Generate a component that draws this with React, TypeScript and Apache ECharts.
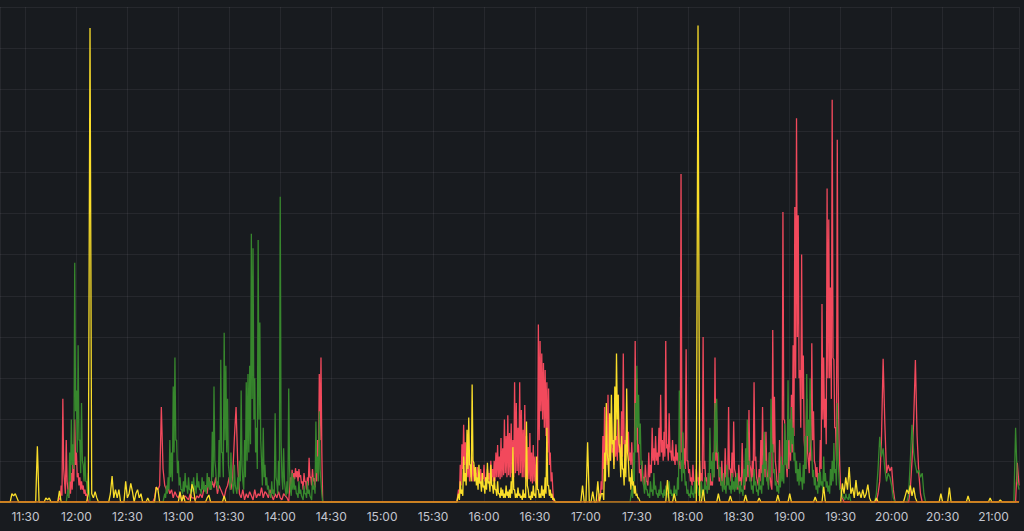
import React, { useEffect, useRef } from "react";
import * as echarts from "echarts";

// Time range of the panel (local clock)
const startClock = "11:15";
const endClock = "21:15";
const tickStepMinutes = 30;

// Each segment: [start clock, per-minute peak values, optional per-minute trough values (read half a minute later)]
type Segment = [string, number[], number[]?];

const redSegments: Segment[] = [
  ["11:50",
    [0.1, 0.4, 2.5, 0.5, 1.5, 0.3, 0.5, 0.7, 1.0, 2.0, 1.2, 0.7, 0.6, 0.5, 0.4, 0.3, 0.2],
    [0.05, 0.15, 0.8, 0.2, 0.5, 0.1, 0.2, 0.3, 0.5, 0.9, 0.6, 0.4, 0.3, 0.3, 0.2, 0.15, 0.1]],
  ["12:46", [
    0.1, 0.36, 0.3, 0.4, 2.3, 0.8, 0.4, 0.3,
    0.35, 0.2, 0.3, 0.1, 0.25, 0.15,
    0.1, 0.2, 0.05, 0.1, 0.15, 0.1, 0.05, 0.2, 0.1, 0.1, 0.05, 0.15, 0.1, 0.2, 0.1, 0.3,
    0.4, 0.2, 0.6, 0.3, 0.5, 0.35, 0.6, 0.2, 0.4, 0.3, 0.2, 0.1, 0.3, 0.4, 0.6, 0.3, 0.6, 1.55, 2.3, 0.9, 0.2,
    0.1, 0.3, 0.05, 0.2, 0.1, 0.25, 0.15, 0.05, 0.3, 0.1, 0.2, 0.15, 0.35, 0.1, 0.25, 0.2, 0.1, 0.3, 0.15, 0.05, 0.2, 0.1, 0.25, 0.1, 0.05, 0.2, 0.15, 0.1,
  ]],
  ["14:06",
    [0.6, 0.78, 0.7, 0.82, 0.75, 0.8, 0.65, 0.5, 0.7, 0.5, 0.6, 1.07, 0.6, 0.8, 0.58, 0.7, 1.5, 3.1, 3.5],
    [0.3, 0.5, 0.55, 0.6, 0.5, 0.6, 0.45, 0.3, 0.5, 0.3, 0.4, 0.6, 0.4, 0.5, 0.35, 0.5, 0.8, 1.5, 1.2]],
  ["15:45", [
    0.3, 0.9, 1.4, 1.87, 1.45, 0.9, 1.2, 0.8, 1.1, 0.9,
    0.7, 0.85, 0.6, 0.8, 0.7, 0.9, 0.6, 0.8, 0.7, 1.0,
    0.8, 1.0, 1.2, 1.38, 1.1, 1.55, 1.3, 2.0, 1.6, 2.1,
    1.67, 1.9, 1.5, 2.9, 2.4, 1.8, 2.9, 2.23, 1.75, 2.35,
    1.6, 1.33, 1.67, 1.2, 1.38, 1.1, 0.95, 4.3, 3.9, 3.6,
    3.37, 3.2, 2.9, 2.75, 1.2, 0.72,
  ], [
    0.1, 0.4, 0.8, 0.9, 0.7, 0.6, 0.5, 0.6, 0.5, 0.6,
    0.5, 0.6, 0.45, 0.5, 0.55, 0.5, 0.45, 0.55, 0.5, 0.6,
    0.5, 0.5, 0.6, 0.6, 0.55, 0.6, 0.65, 0.7, 0.6, 0.65,
    0.6, 0.7, 0.6, 0.7, 0.75, 0.65, 0.7, 0.6, 0.6, 0.55,
    0.5, 0.55, 0.5, 0.45, 0.5, 0.45, 0.4, 1.5, 2.2, 2.0,
    1.8, 1.6, 1.2, 0.9, 0.5, 0.3,
  ]],
  ["17:08", [
    0.2, 0.5, 1.6, 2.3, 1.2, 2.6, 1.5, 2.0, 1.3, 2.2,
    1.6, 2.6, 1.4, 2.2, 3.6, 1.5, 2.0, 1.7, 1.2, 1.45,
    1.0, 3.9, 3.0, 1.4, 0.8, 1.0, 0.6, 0.9, 0.5, 1.2,
    0.9, 1.8, 1.3, 1.6, 1.2, 1.8, 2.6, 1.5, 1.7, 3.9,
    1.4, 2.15, 1.25, 1.5, 1.1, 1.4, 1.2, 1.0, 7.95, 1.67,
    1.3, 3.7, 1.0, 0.8, 0.6, 0.9, 0.5, 0.8, 0.6, 1.0,
    0.7, 4.0, 1.0, 0.6, 0.4, 0.7, 0.5, 1.2, 3.5, 2.0,
    0.9, 0.6, 1.0, 0.5, 1.3, 0.7, 2.3, 0.8, 1.2, 1.95,
    0.7, 0.5, 0.9, 0.6, 1.43, 0.4, 0.8, 1.2, 2.23, 0.8,
    1.0, 2.9, 1.1, 0.5, 0.8, 1.5, 2.3, 1.0, 1.7, 0.6,
    1.2, 0.4, 4.17, 2.55, 0.8, 0.5, 1.5, 1.0, 7.03, 1.98,
    0.9, 1.5, 2.0, 2.6, 3.8, 7.15, 9.3, 6.95, 3.2, 6.0,
    3.55, 1.2, 2.5, 1.0, 2.0, 3.85, 2.2, 0.9, 0.85, 0.7,
    1.5, 4.8, 3.5, 2.5, 7.6, 6.85, 5.2, 9.75, 3.45, 1.8,
    8.78, 1.5, 0.3, 0.1, 0,
  ], [
    0.1, 0.3, 0.8, 1.0, 0.9, 1.1, 1.0, 1.2, 0.9, 1.1,
    1.0, 1.2, 1.0, 1.1, 1.4, 1.0, 1.2, 1.0, 0.9, 0.8,
    0.7, 1.5, 1.2, 0.7, 0.5, 0.6, 0.4, 0.5, 0.4, 0.6,
    0.7, 1.0, 0.9, 1.0, 0.9, 1.1, 1.2, 1.0, 1.1, 1.3,
    1.0, 1.2, 1.0, 1.0, 0.9, 1.0, 0.9, 0.8, 1.2, 0.9,
    0.8, 1.0, 0.7, 0.5, 0.4, 0.5, 0.4, 0.5, 0.4, 0.5,
    0.5, 0.8, 0.5, 0.4, 0.3, 0.4, 0.4, 0.6, 1.0, 0.8,
    0.5, 0.4, 0.5, 0.4, 0.6, 0.5, 0.8, 0.5, 0.6, 0.8,
    0.4, 0.3, 0.5, 0.4, 0.6, 0.3, 0.5, 0.6, 0.9, 0.5,
    0.6, 1.0, 0.6, 0.4, 0.5, 0.7, 0.9, 0.6, 0.8, 0.4,
    0.6, 0.3, 1.2, 1.0, 0.5, 0.4, 0.7, 0.6, 2.0, 1.0,
    0.6, 0.8, 1.0, 1.2, 1.6, 3.0, 4.0, 3.0, 1.8, 2.5,
    1.5, 0.8, 1.2, 0.7, 1.0, 1.5, 1.0, 0.6, 0.5, 0.5,
    0.8, 2.0, 1.8, 1.4, 3.0, 3.0, 2.5, 3.5, 1.8, 1.0,
    3.0, 0.8, 0.2, 0.05, 0,
  ]],
  ["19:52", [0.2, 0.5, 1.5, 3.47, 1.9, 0.7, 0.9, 0.75, 0.85, 0.3]],
  ["20:11", [0.3, 1.0, 2.0, 3.44, 1.6, 0.7, 0.2]],
  ["21:14", [0.95, 0.4]],
];

const greenSegments: Segment[] = [
  ["11:55",
    [0.3, 1.2, 2.0, 1.4, 5.8, 2.7, 3.8, 1.5, 2.4, 0.9, 1.1, 0.5, 0.7],
    [0.1, 0.5, 0.9, 0.8, 2.2, 1.2, 1.5, 0.7, 1.0, 0.5, 0.5, 0.2, 0.3]],
  ["12:52", [
    0.2, 0.4, 0.6, 1.5, 1.2, 2.8, 3.5, 1.5, 1.0,
    0.6, 0.3, 0.5, 0.7, 0.4, 0.6, 0.3, 0.5, 0.6, 0.4, 0.7, 0.5, 0.3, 0.6, 0.5, 0.4, 0.7, 0.6,
    0.5, 1.7, 2.8, 0.8, 0.5, 1.5, 3.45, 1.2, 4.1, 3.3, 2.5, 0.7, 1.2, 0.4, 0.9, 0.3, 0.6, 1.0, 2.7,
    0.5, 1.5, 2.9, 3.1, 3.3, 6.5, 6.15, 3.0, 1.8, 6.35, 4.35, 1.0, 1.8, 0.9, 0.6, 0.4, 0.2, 0.5, 0.3,
    2.15, 0.5, 1.0, 7.4, 0.6, 1.3, 0.3, 0.5, 2.75, 0.3, 0.7, 0.6, 0.4, 0.2, 0.5, 0.3, 0.1, 0.4, 0.2,
    0.5, 0.3, 0.1, 0.6, 0.4, 1.95, 1.1, 2.2, 0.5,
  ], [
    0.1, 0.2, 0.3, 0.6, 0.5, 1.2, 1.5, 0.7, 0.4,
    0.3, 0.2, 0.25, 0.35, 0.2, 0.3, 0.2, 0.25, 0.3, 0.2, 0.35, 0.3, 0.2, 0.3, 0.25, 0.2, 0.35, 0.3,
    0.3, 0.6, 1.0, 0.4, 0.3, 0.6, 1.2, 0.6, 1.5, 1.2, 0.9, 0.3, 0.5, 0.2, 0.4, 0.2, 0.3, 0.5, 0.9,
    0.3, 0.6, 1.0, 1.2, 1.4, 2.5, 2.0, 1.2, 0.8, 2.0, 1.5, 0.4, 0.6, 0.4, 0.3, 0.2, 0.1, 0.2, 0.15,
    0.6, 0.2, 0.4, 1.5, 0.3, 0.5, 0.15, 0.2, 0.8, 0.15, 0.3, 0.3, 0.2, 0.1, 0.2, 0.15, 0.05, 0.2, 0.1,
    0.2, 0.15, 0.05, 0.3, 0.2, 0.7, 0.5, 0.8, 0.2,
  ]],
  ["17:27", [
    0.3, 1.2, 2.4, 3.3, 2.6, 1.9, 1.0, 0.4, 0.6, 0.3,
    0.2, 0.5, 0.3, 0.7, 0.4, 0.2, 0.3, 0.5, 0.2, 0.3,
    0.4, 0.2, 0.5, 0.3, 0.2, 0.4, 0.3, 0.6, 2.7, 1.0,
    1.7, 0.8, 0.5, 0.3, 0.2, 0.4, 0.2, 0.5, 0.8, 0.3,
    0.2, 0.5, 0.3, 0.6, 0.4, 0.7, 1.8, 1.0, 1.2, 2.4,
    2.5, 1.2, 0.85, 0.5, 0.7, 0.4, 0.9, 0.6, 0.4, 0.7,
    0.5, 0.6, 0.7, 0.4, 0.5, 0.3, 0.8, 1.3, 2.0, 1.0,
    0.6, 0.4, 0.8, 0.5, 0.3, 0.6, 0.4, 0.9, 1.7, 1.0,
    0.6, 1.2, 2.5, 1.4, 0.8, 0.5, 0.4, 0.7, 1.1, 0.9,
    1.9, 1.5, 2.95, 2.0, 2.3, 1.8, 1.2, 1.0, 0.8, 0.95,
    0.6, 0.9, 1.6, 3.1, 2.0, 3.0, 1.2, 0.78, 0.6, 0.4,
    0.7, 0.73, 0.5, 1.1, 0.7, 0.5, 0.4, 0.8, 1.0, 1.43,
    0.8, 2.4, 0.6, 0.3, 0.2, 0.1, 0.2, 0.1, 0.2,
  ], [
    0.1, 0.5, 1.2, 1.8, 1.4, 0.9, 0.5, 0.2, 0.3, 0.15,
    0.1, 0.25, 0.15, 0.3, 0.2, 0.1, 0.15, 0.2, 0.1, 0.15,
    0.2, 0.1, 0.2, 0.15, 0.1, 0.2, 0.15, 0.3, 1.0, 0.5,
    0.7, 0.4, 0.2, 0.15, 0.1, 0.2, 0.1, 0.2, 0.4, 0.15,
    0.1, 0.2, 0.15, 0.3, 0.2, 0.3, 0.8, 0.5, 0.6, 1.2,
    1.2, 0.6, 0.4, 0.25, 0.3, 0.2, 0.4, 0.3, 0.2, 0.3,
    0.25, 0.3, 0.35, 0.2, 0.25, 0.15, 0.4, 0.6, 0.9, 0.5,
    0.3, 0.2, 0.4, 0.25, 0.15, 0.3, 0.2, 0.4, 0.8, 0.5,
    0.3, 0.6, 1.2, 0.7, 0.4, 0.25, 0.2, 0.35, 0.5, 0.45,
    0.9, 0.8, 1.5, 1.2, 1.4, 1.0, 0.7, 0.5, 0.4, 0.5,
    0.3, 0.45, 0.8, 1.6, 1.2, 1.5, 0.6, 0.4, 0.3, 0.2,
    0.35, 0.4, 0.25, 0.5, 0.35, 0.25, 0.2, 0.4, 0.5, 0.7,
    0.4, 1.0, 0.3, 0.15, 0.1, 0.05, 0.1, 0.05, 0.1,
  ]],
  ["19:51", [0.2, 0.8, 1.58, 1.1, 1.3, 0.8, 0.5, 0.7, 0.6, 0.4, 0.1]],
  ["20:10", [0.2, 1.0, 1.87, 1.2, 0.9, 0.7, 0.78, 0.6, 0.7, 0.2]],
  ["21:13", [1.8, 0.5, 0.3]],
];

const yellowSegments: Segment[] = [
  ["11:22", [0.2, 0.15, 0.2, 0.1]],
  ["11:37", [1.35]],
  ["11:42", [0.1, 0.05, 0.1]],
  ["11:50", [0.27]],
  ["12:07", [0.2, 11.49, 0.2, 0.1, 0.25, 0.1]],
  ["12:20", [0.2, 0.63, 0.1, 0.3, 0.1, 0.3]],
  ["12:29", [0.5, 0.1, 0.2, 0.45, 0.25]],
  ["12:35", [0.2, 0.3, 0.1, 0.2]],
  ["12:42", [0.1]],
  ["12:47", [0.36, 0.3]],
  ["13:01", [0.25, 0, 0.17]],
  ["13:08", [0.43, 0.3]],
  ["13:17", [0.1, 0.17]],
  ["13:27", [0.15]],
  ["15:45", [
    0.2, 0.5, 0.3, 1.1, 0.7, 1.75, 2.05, 0.9, 2.85, 0.95,
    0.85, 0.6, 0.9, 0.5, 0.7, 0.4, 0.6, 0.95, 0.5, 0.9,
    0.4, 0.6, 0.3, 0.5, 0.2, 0.35, 0.3, 0.2, 0.4, 0.25,
    0.3, 0.5, 1.33, 0.3, 0.2, 0.35, 0.2, 0.15, 0.3, 0.2,
    1.95, 0.3, 0.15, 0.25, 0.4, 0.2, 1.1, 0.3, 0.2, 0.4,
    0.3, 0.6, 1.8, 0.4, 0.3, 0.2, 0.1,
  ], [
    0.05, 0.2, 0.15, 0.5, 0.4, 0.8, 0.9, 0.5, 1.0, 0.5,
    0.4, 0.3, 0.45, 0.25, 0.35, 0.2, 0.3, 0.45, 0.25, 0.4,
    0.2, 0.3, 0.15, 0.2, 0.1, 0.15, 0.1, 0.1, 0.15, 0.1,
    0.1, 0.2, 0.3, 0.1, 0.1, 0.15, 0.1, 0.05, 0.1, 0.1,
    0.4, 0.1, 0.05, 0.1, 0.15, 0.1, 0.3, 0.1, 0.1, 0.15,
    0.1, 0.2, 0.4, 0.15, 0.1, 0.05, 0.05,
  ]],
  ["16:58", [0.4, 0, 0, 1.45, 0, 0, 0.25, 0, 0, 0.5, 0, 0.2]],
  ["17:10",
    [0.2, 1.2, 2.4, 1.0, 2.15, 2.6, 1.5, 2.8, 3.6, 2.6, 1.3, 1.6, 0.8, 1.4, 2.75, 1.0, 0.6, 0.8, 0.5, 0.4, 0.2, 0.1],
    [0.05, 0.5, 1.2, 0.6, 1.0, 1.4, 0.8, 1.5, 2.0, 1.4, 0.6, 0.8, 0.4, 0.6, 1.2, 0.5, 0.3, 0.4, 0.2, 0.15, 0.1, 0.05]],
  ["17:48", [0.53]],
  ["17:52", [0.2]],
  ["18:06", [11.55]],
  ["18:09", [0.3]],
  ["18:18", [0.2]],
  ["18:25", [0.15]],
  ["18:34", [0.17]],
  ["18:42", [0.1]],
  ["18:53", [0.17]],
  ["19:00", [0.2]],
  ["19:15", [0.12]],
  ["19:20", [0.37]],
  ["19:31", [0.45, 0.2, 0.6, 0.3, 0.85, 0.2, 0.35, 0.1, 0.53, 0.15, 0.25, 0.1, 0.3, 0.1, 0.2, 0.42, 0.1]],
  ["19:51", [0.1]],
  ["20:08", [0.15, 0.3, 0.2, 0.4, 0.15, 0.35, 0.1]],
  ["20:29", [0.2]],
  ["20:34", [0.35]],
  ["20:45", [0.15]],
  ["20:58", [0.1]],
  ["21:04", [0.05]],
];

const baselineValues = [0, 0];

const yMax = 12;
const yStep = 1;

function toTime(clock: string): number {
  const [h, m] = clock.split(":").map(Number);
  return new Date(2024, 0, 1, h, m).getTime();
}

function buildSeries(segments: Segment[]): [number, number][] {
  const t0 = toTime(startClock);
  const t1 = toTime(endClock);
  const n = Math.round((t1 - t0) / 60000);
  const points = new Map<number, number>();
  for (let i = 0; i <= n; i++) points.set(i * 2, 0);
  for (const [clock, peaks, troughs] of segments) {
    const off = Math.round((toTime(clock) - t0) / 60000);
    peaks.forEach((v, i) => {
      if (off + i >= 0 && off + i <= n) points.set((off + i) * 2, v);
    });
    if (troughs) {
      troughs.forEach((v, i) => {
        if (off + i >= 0 && off + i < n) points.set((off + i) * 2 + 1, v);
      });
    }
  }
  return Array.from(points.keys())
    .sort((a, b) => a - b)
    .map((k) => [t0 + k * 30000, points.get(k) as number]);
}

export default function App() {
  const ref = useRef<HTMLDivElement>(null);

  useEffect(() => {
    if (!ref.current) return;
    const chart = echarts.init(ref.current, undefined, { renderer: "svg" });
    const t0 = toTime(startClock);
    const t1 = toTime(endClock);
    // time scale picks a 30-minute step when the approximate interval is just above 30 min
    const approxStep = (tickStepMinutes + 1) * 60000;
    const lineSeries = (name: string, color: string, data: any[], z: number, width: number) => ({
      name,
      type: "line",
      data,
      showSymbol: false,
      symbol: "none",
      z,
      lineStyle: { color, width },
      itemStyle: { color },
      emphasis: { disabled: true },
    });
    chart.setOption({
      animation: false,
      backgroundColor: "#181b1f",
      grid: { left: 0, right: 5, top: 7, bottom: 29, containLabel: false, outerBoundsMode: "none" },
      xAxis: {
        type: "time",
        min: t0,
        max: t1,
        minInterval: approxStep,
        maxInterval: approxStep,
        axisLine: { show: false },
        axisTick: { show: false },
        axisLabel: {
          color: "#c4c6cf",
          fontSize: 12,
          fontFamily: "Inter, 'Noto Sans', sans-serif",
          margin: 8,
          formatter: "{HH}:{mm}",
        },
        splitLine: { show: true, lineStyle: { color: "rgba(204,204,220,0.08)", width: 1 } },
      },
      yAxis: {
        type: "value",
        min: 0,
        max: yMax,
        interval: yStep,
        axisLine: { show: false },
        axisTick: { show: false },
        axisLabel: { show: false },
        splitLine: { show: true, lineStyle: { color: "rgba(204,204,220,0.08)", width: 1 } },
      },
      series: [
        lineSeries("red", "#F2495C", buildSeries(redSegments), 2, 1.3),
        lineSeries("green", "#37872D", buildSeries(greenSegments), 3, 1.3),
        lineSeries("yellow", "#FADE2A", buildSeries(yellowSegments), 4, 1.3),
        lineSeries("baseline", "#d0661c", [[t0, baselineValues[0]], [t1, baselineValues[1]]], 5, 1.5),
      ],
    });
    return () => chart.dispose();
  }, []);

  return (
    <div
      ref={ref}
      style={{ position: "fixed", left: 0, top: 0, width: 1024, height: 531, background: "#181b1f" }}
    />
  );
}
